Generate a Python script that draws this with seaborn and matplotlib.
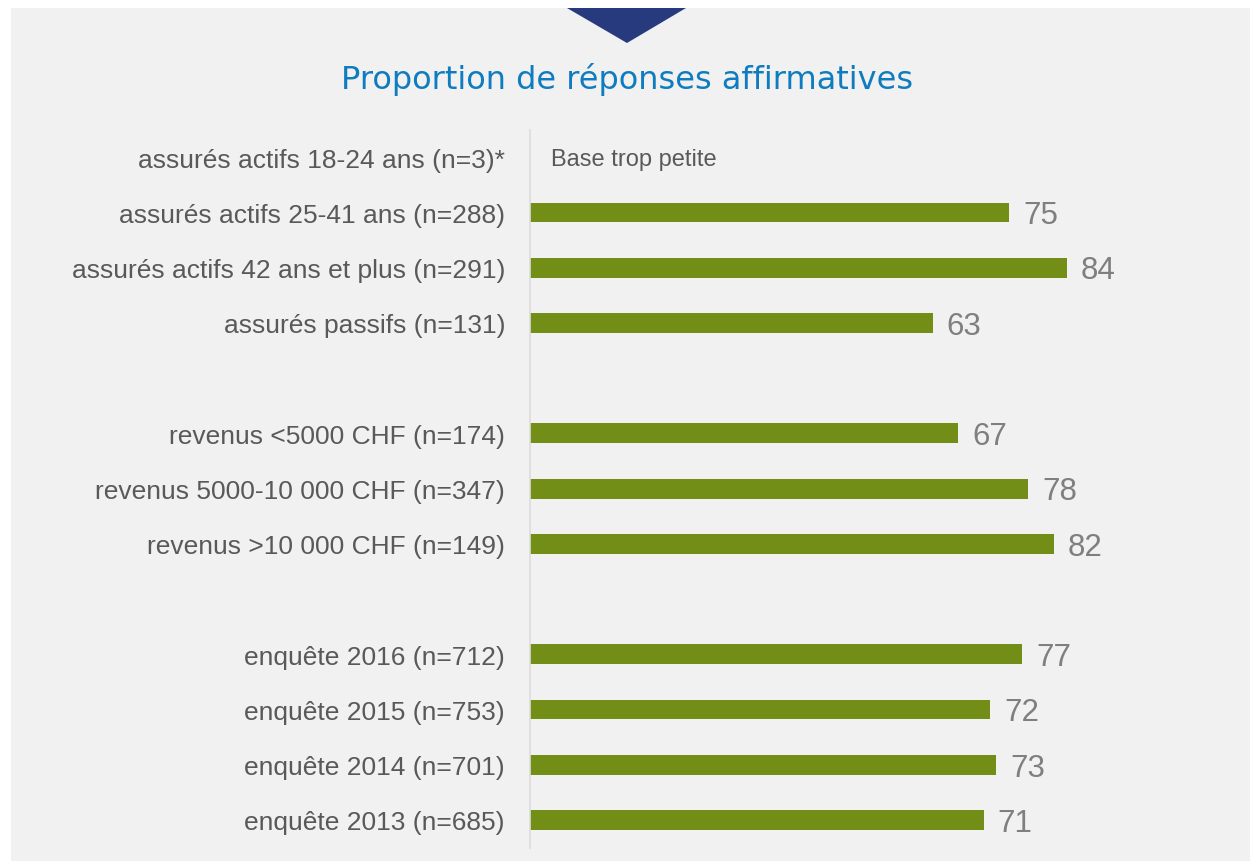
import pandas as pd
import matplotlib.pyplot as plt
import seaborn as sns
from matplotlib.patches import Rectangle, Polygon

categories = [
    'assurés actifs 18-24 ans (n=3)*',
    'assurés actifs 25-41 ans (n=288)',
    'assurés actifs 42 ans et plus (n=291)',
    'assurés passifs (n=131)',
    'revenus <5000 CHF (n=174)',
    'revenus 5000-10 000 CHF (n=347)',
    'revenus >10 000 CHF (n=149)',
    'enquête 2016 (n=712)',
    'enquête 2015 (n=753)',
    'enquête 2014 (n=701)',
    'enquête 2013 (n=685)',
]
values = [None, 75, 84, 63, 67, 78, 82, 77, 72, 73, 71]

# blank rows separate the three groups
order = categories[:4] + [' '] + categories[4:7] + ['  '] + categories[7:]

df = pd.DataFrame({'Groupe': categories, 'Oui': values}).dropna()

sns.set_theme(style='white')
plt.rcParams['font.family'] = ['Liberation Sans', 'DejaVu Sans']

fig = plt.figure(figsize=(12.5, 8.62), dpi=100)
fig.patch.set_facecolor('white')
fig.patches.append(Rectangle((11 / 1250, 0), 1 - 11 / 1250, 1 - 9 / 862,
                             transform=fig.transFigure, facecolor='#f1f1f1',
                             edgecolor='none', zorder=-2))
fig.patches.append(Polygon([(567 / 1250, 1 - 9 / 862), (686 / 1250, 1 - 9 / 862),
                            (627 / 1250, 1 - 44 / 862)],
                           transform=fig.transFigure, facecolor='#263a7d',
                           edgecolor='none', zorder=-1))
fig.text(627 / 1250, 1 - 80 / 862, 'Proportion de réponses affirmatives',
         ha='center', va='center', fontsize=23, color='#0f7cc0',
         family='DejaVu Sans')

ax = fig.add_axes([530 / 1250, 1 - 848.6 / 862, 639 / 1250, 718 / 862])
ax.set_facecolor('none')

sns.barplot(data=df, x='Oui', y='Groupe', order=order, orient='h',
            color='#738e16', saturation=1, width=0.36, linewidth=0, ax=ax)

for c in ax.containers:
    anns = ax.bar_label(c, fmt='%d', padding=10, fontsize=22.5, color='#7f7f7f')
    for a in anns:
        a.xyann = (a.xyann[0], a.xyann[1] - 2)

ax.set_xlim(0, 100)
ax.set_ylim(12.5, -0.5)
ax.set_xlabel('')
ax.set_ylabel('')
ax.set_xticks([])
ax.set_yticks(range(len(order)))
ax.set_yticklabels([o if o.strip() else '' for o in order], fontsize=19,
                   color='#595959')
ax.tick_params(axis='y', length=0, pad=18)

for side in ['top', 'right', 'bottom']:
    ax.spines[side].set_visible(False)
ax.spines['left'].set_color('#dcdcdc')
ax.spines['left'].set_linewidth(1.2)

ax.text(3.3, 0.03, 'Base trop petite', va='center', ha='left', fontsize=17,
        color='#595959')

fig.savefig('out.png', dpi=100, facecolor='white')
